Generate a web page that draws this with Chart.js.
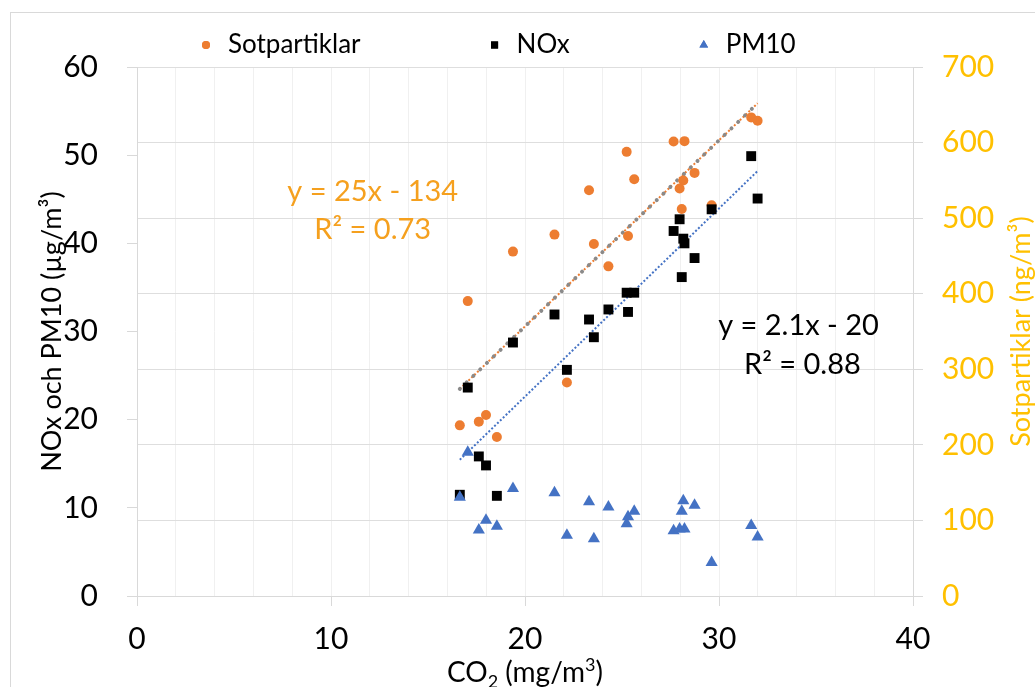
<!DOCTYPE html>
<html><head><meta charset="utf-8">
<script src="https://cdn.jsdelivr.net/npm/chart.js@4/dist/chart.umd.min.js"></script>
<style>html,body{margin:0;padding:0;background:#fff}#wrap{width:1035px;height:687px;position:relative}</style>
</head><body><div id="wrap"><canvas id="c"></canvas></div>
<script>
// CO2 (mg/m3) for each measurement
const co2 = [16.64, 17.05, 17.62, 17.99, 18.55, 19.38, 21.52, 22.16, 23.30, 23.55, 24.30, 25.24, 25.31, 25.63, 27.66, 27.97, 28.08, 28.16, 28.22, 28.74, 29.62, 31.66, 31.99];
// Sotpartiklar (ng/m3), right axis
const sotpartiklar = [225.8, 390.2, 230.7, 239.6, 210.4, 455.7, 478.2, 282.4, 536.9, 465.7, 436.2, 587.7, 476.3, 551.5, 601.5, 539.2, 512.1, 549.8, 601.9, 559.9, 517.0, 633.3, 628.8];
// NOx (ug/m3), left axis
const nox = [11.48, 23.64, 15.83, 14.81, 11.36, 28.75, 31.93, 25.65, 31.36, 29.35, 32.50, 34.40, 32.22, 34.40, 41.40, 42.73, 36.17, 40.53, 40.00, 38.33, 43.86, 49.89, 45.08];
// PM10 (ug/m3), left axis
const pm10 = [11.2, 16.3, 7.5, 8.6, 7.9, 12.2, 11.7, 6.9, 10.7, 6.5, 10.1, 8.2, 9.0, 9.6, 7.4, 7.6, 9.6, 10.8, 7.6, 10.3, 3.8, 8.0, 6.7];
// trendline end points
const trendCo2 = [16.64, 31.99];
const sotTrend = [274, 652];
const noxTrend = [15.45, 48.2];
// labels
const seriesNames = ['Sotpartiklar', 'NOx', 'PM10'];
const sotEquation = ['y = 25x - 134', 'R² = 0.73'];
const noxEquation = ['y = 2.1x - 20', 'R² = 0.88'];
const leftTitle = 'NOx och PM10 (µg/m³)';
const rightTitle = 'Sotpartiklar (ng/m³)';

const FONT = 'Lato, "Open Sans", sans-serif';
const pts = (xs, ys) => xs.map((x, i) => ({x: x, y: ys[i]}));

const deco = {
  id: 'deco',
  beforeDraw(chart) {
    const ctx = chart.ctx;
    ctx.save();
    ctx.fillStyle = '#fff';
    ctx.fillRect(0, 0, chart.width, chart.height);
    ctx.strokeStyle = '#d9d9d9';
    ctx.lineWidth = 1;
    ctx.strokeRect(10.5, 12.5, chart.width + 20, chart.height + 20);
    ctx.restore();
  },
  afterDraw(chart) {
    const ctx = chart.ctx;
    const ca = chart.chartArea;
    const sx = chart.scales.x, sy = chart.scales.y;
    ctx.save();
    // legend
    ctx.font = '26px ' + FONT;
    ctx.textBaseline = 'middle';
    ctx.textAlign = 'left';
    let lx = 202;
    const ly = 45;
    const legendStyles = [
      {pointStyle: 'circle', radius: 4, color: '#ED7D31'},
      {pointStyle: 'rect', radius: 5, color: '#000000'},
      {pointStyle: 'triangle', radius: 5, color: '#4472C4'}
    ];
    seriesNames.forEach((name, i) => {
      const st = legendStyles[i];
      ctx.fillStyle = st.color;
      ctx.beginPath();
      Chart.helpers.drawPoint(ctx, {pointStyle: st.pointStyle, radius: st.radius, borderWidth: 0, rotation: 0}, lx + 4, ly);
      ctx.fill();
      ctx.fillStyle = '#000';
      ctx.fillText(name, lx + 26, ly);
      lx += 26 + ctx.measureText(name).width + 130;
    });
    // axis titles
    const cy = (ca.top + ca.bottom) / 2;
    ctx.textAlign = 'center';
    ctx.font = '27px ' + FONT;
    ctx.save();
    ctx.translate(52, cy);
    ctx.rotate(-Math.PI / 2);
    ctx.fillStyle = '#000';
    ctx.fillText(leftTitle, 0, 0);
    ctx.restore();
    ctx.save();
    ctx.translate(1021, cy);
    ctx.rotate(-Math.PI / 2);
    ctx.fillStyle = '#FFC000';
    ctx.fillText(rightTitle, 0, 0);
    ctx.restore();
    // x title with subscript / superscript
    const parts = [
      {t: 'CO', size: 28, dy: 0},
      {t: '2', size: 18, dy: 6},
      {t: ' (mg/m', size: 28, dy: 0},
      {t: '3', size: 18, dy: -11},
      {t: ')', size: 28, dy: 0}
    ];
    ctx.textBaseline = 'alphabetic';
    ctx.textAlign = 'left';
    let total = 0;
    parts.forEach(p => { ctx.font = p.size + 'px ' + FONT; p.w = ctx.measureText(p.t).width; total += p.w; });
    let tx = (ca.left + ca.right) / 2 - total / 2;
    ctx.fillStyle = '#000';
    parts.forEach(p => { ctx.font = p.size + 'px ' + FONT; ctx.fillText(p.t, tx, 682 + p.dy); tx += p.w; });
    // trendline equations
    ctx.textAlign = 'center';
    ctx.textBaseline = 'middle';
    ctx.font = '29px ' + FONT;
    ctx.fillStyle = '#F5A01E';
    ctx.fillText(sotEquation[0], sx.getPixelForValue(12.15), sy.getPixelForValue(45.9));
    ctx.fillText(sotEquation[1], sx.getPixelForValue(12.15), sy.getPixelForValue(41.6));
    ctx.fillStyle = '#000';
    ctx.fillText(noxEquation[0], sx.getPixelForValue(34.1), sy.getPixelForValue(30.7));
    ctx.fillText(noxEquation[1], sx.getPixelForValue(34.3), sy.getPixelForValue(26.2));
    ctx.restore();
  }
};

new Chart(document.getElementById('c'), {
  type: 'scatter',
  data: {
    datasets: [
      {label: seriesNames[2], data: pts(co2, pm10), yAxisID: 'y', pointStyle: 'triangle', pointRadius: 7, backgroundColor: '#4472C4', borderWidth: 0, order: 0},
      {label: seriesNames[1], data: pts(co2, nox), yAxisID: 'y', pointStyle: 'rect', pointRadius: 7, backgroundColor: '#000000', borderWidth: 0, order: 1},
      {label: seriesNames[0], data: pts(co2, sotpartiklar), yAxisID: 'y2', pointStyle: 'circle', pointRadius: 5, backgroundColor: '#ED7D31', borderWidth: 0, order: 2},
      {label: 'trend NOx', data: pts(trendCo2, noxTrend), yAxisID: 'y', showLine: true, pointRadius: 0, borderColor: '#4472C4', borderWidth: 2, borderDash: [2, 2], order: 3},
      {label: 'trend Sot dots', data: pts(trendCo2, sotTrend), yAxisID: 'y2', showLine: true, pointRadius: 0, borderColor: '#8a8a8a', borderWidth: 4, borderCapStyle: 'round', borderDash: [0.01, 9.4], order: 4},
      {label: 'trend Sot', data: pts(trendCo2, sotTrend), yAxisID: 'y2', showLine: true, pointRadius: 0, borderColor: '#ED7D31', borderWidth: 2, borderDash: [2, 2], order: 5}
    ]
  },
  options: {
    responsive: true,
    maintainAspectRatio: false,
    animation: false,
    layout: {padding: {top: 67, left: 0, right: 0, bottom: 0}},
    plugins: {legend: {display: false}, tooltip: {enabled: false}},
    scales: {
      x: {
        type: 'linear', min: 0, max: 40,
        afterFit(s) { s.height = 91; },
        ticks: {stepSize: 2, autoSkip: false, maxRotation: 0, padding: 15, color: '#000', font: {family: FONT, size: 30},
          callback: v => (v % 10 === 0 ? String(v) : '')},
        grid: {color: '#f0f0f0', lineWidth: 1, drawTicks: true, tickLength: 10,
          tickColor: c => (c.tick && c.tick.value % 10 === 0 ? '#d9d9d9' : 'rgba(0,0,0,0)')},
        border: {color: '#d9d9d9'}
      },
      y: {
        position: 'left', min: 0, max: 60,
        afterFit(s) { s.width = 137; },
        ticks: {stepSize: 10, padding: 29, color: '#000', font: {family: FONT, size: 30}},
        grid: {drawOnChartArea: false, drawTicks: true, tickLength: 10, tickColor: '#d9d9d9'},
        border: {color: '#d9d9d9'}
      },
      y2: {
        position: 'right', min: 0, max: 700,
        afterFit(s) { s.width = 122; },
        ticks: {stepSize: 100, padding: 19, color: '#FFC000', font: {family: FONT, size: 30}},
        grid: {color: '#dedede', drawTicks: true, tickLength: 10, tickColor: '#d9d9d9'},
        border: {color: '#d9d9d9'}
      }
    }
  },
  plugins: [deco]
});
</script>
</body></html>
